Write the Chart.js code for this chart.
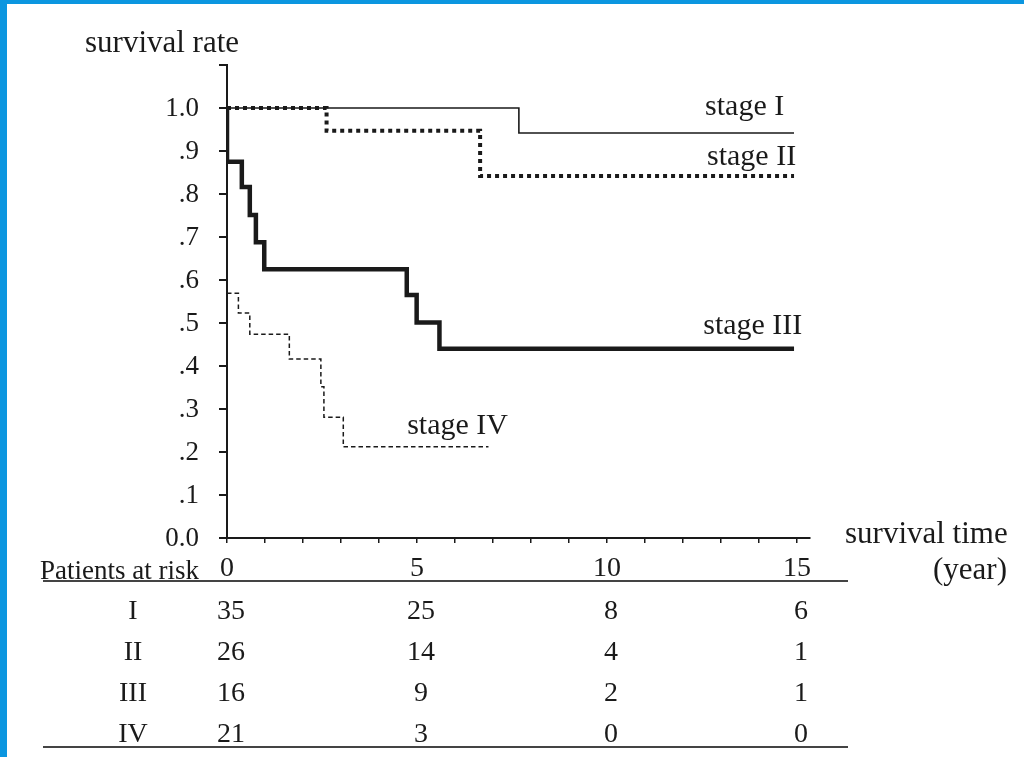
<!DOCTYPE html>
<html>
<head>
<meta charset="utf-8">
<script src="https://cdn.jsdelivr.net/npm/chart.js@4.4.1/dist/chart.umd.min.js"></script>
<style>
  html, body { margin: 0; padding: 0; background: #fff; overflow: hidden; }
  canvas { display: block; }
</style>
</head>
<body>
<canvas id="km" width="1024" height="757"></canvas>
<script>
// survival curves (years, survival rate)
const stageITime = [0, 7.68, 14.92];
const stageISurv = [1.0, 0.942, 0.942];
const stageIITime = [0, 2.62, 6.66, 14.92];
const stageIISurv = [1.0, 0.947, 0.842, 0.842];
const stageIIITime = [0, 0, 0.39, 0.6, 0.76, 0.98, 4.73, 4.99, 5.59, 14.92];
const stageIIISurv = [1.0, 0.875, 0.816, 0.751, 0.688, 0.625, 0.565, 0.501, 0.44, 0.44];
const stageIVTime = [0, 0.3, 0.6, 1.64, 2.47, 2.55, 3.06, 6.88];
const stageIVSurv = [0.569, 0.523, 0.474, 0.416, 0.352, 0.281, 0.212, 0.212];

// patients at risk table
const riskYears = [0, 5, 10, 15];
const riskStages = ['I', 'II', 'III', 'IV'];
const riskI = [35, 25, 8, 6];
const riskII = [26, 14, 4, 1];
const riskIII = [16, 9, 2, 1];
const riskIV = [21, 3, 0, 0];

// tick labels
const xTickLabels = ['0', '5', '10', '15'];
const yTickLabels = ['0.0', '.1', '.2', '.3', '.4', '.5', '.6', '.7', '.8', '.9', '1.0'];

const INK = '#1a1a1a';
const BLUE = '#0b96e0';
const SERIF = "'Liberation Serif', 'Times New Roman', serif";

function pts(t, s) {
  return t.map((x, i) => ({ x: x, y: s[i] }));
}

const scanPlugin = {
  id: 'scan',
  beforeDraw(chart) {
    const c = chart.ctx;
    c.save();
    c.fillStyle = '#fff';
    c.fillRect(0, 0, chart.width, chart.height);
    c.fillStyle = BLUE;
    c.fillRect(0, 0, 7, chart.height);
    c.fillRect(0, 0, chart.width, 4);
    c.restore();
  },
  afterDraw(chart) {
    const c = chart.ctx;
    const xs = chart.scales.x, ys = chart.scales.y;
    c.save();
    c.fillStyle = INK;
    c.textBaseline = 'alphabetic';
    c.textAlign = 'left';

    c.font = '31px ' + SERIF;
    c.fillText('survival rate', 85, 52);
    c.fillText('survival time', 845, 543);
    c.fillText('(year)', 933, 579);

    // curve labels, anchored in data units
    c.font = '30px ' + SERIF;
    c.fillText('stage I', xs.getPixelForValue(12.58), ys.getPixelForValue(0.984));
    c.fillText('stage II', xs.getPixelForValue(12.63), ys.getPixelForValue(0.868));
    c.fillText('stage III', xs.getPixelForValue(12.53), ys.getPixelForValue(0.475));
    c.fillText('stage IV', xs.getPixelForValue(4.74), ys.getPixelForValue(0.242));

    // table
    c.font = '27px ' + SERIF;
    c.fillText('Patients at risk', 40, 579);

    c.strokeStyle = '#444';
    c.lineWidth = 2;
    c.beginPath();
    c.moveTo(43, 581); c.lineTo(848, 581);
    c.moveTo(43, 747); c.lineTo(848, 747);
    c.stroke();

    const rows = [riskI, riskII, riskIII, riskIV];
    c.font = '28px ' + SERIF;
    c.textAlign = 'center';
    rows.forEach((row, r) => {
      const base = 619 + r * 41;
      c.fillText(riskStages[r], 133, base);
      row.forEach((n, k) => {
        c.fillText(String(n), xs.getPixelForValue(riskYears[k]) + 4, base);
      });
    });
    c.restore();
  }
};

new Chart(document.getElementById('km'), {
  type: 'line',
  data: {
    datasets: [
      { label: 'stage I', data: pts(stageITime, stageISurv), borderColor: INK, borderWidth: 1.6 },
      { label: 'stage II', data: pts(stageIITime, stageIISurv), borderColor: INK, borderWidth: 4, borderDash: [4, 4] },
      { label: 'stage III', data: pts(stageIIITime, stageIIISurv), borderColor: INK, borderWidth: 4.5 },
      { label: 'stage IV', data: pts(stageIVTime, stageIVSurv), borderColor: INK, borderWidth: 1.5, borderDash: [4.5, 3] }
    ]
  },
  options: {
    responsive: false,
    animation: false,
    devicePixelRatio: 1,
    datasets: { line: { stepped: true, pointRadius: 0, fill: false, borderCapStyle: 'butt' } },
    layout: { padding: { left: 0, top: 65, right: 1024 - 810, bottom: 757 - 538 - 40 } },
    plugins: { legend: { display: false }, tooltip: { enabled: false } },
    scales: {
      x: {
        type: 'linear',
        min: 0,
        max: 15.34,
        afterFit: (s) => { s.height = 40; },
        border: { display: true, color: INK, width: 2 },
        grid: { drawOnChartArea: false, drawTicks: true, tickLength: 5, color: INK, lineWidth: 1.5 },
        ticks: {
          stepSize: 1,
          includeBounds: false,
          autoSkip: false,
          maxRotation: 0,
          padding: 9,
          color: INK,
          font: { family: SERIF, size: 28 },
          callback: (v) => (v % 5 === 0 ? xTickLabels[v / 5] : '')
        }
      },
      y: {
        min: 0,
        max: 1.1,
        afterFit: (s) => { s.width = 227; },
        border: { display: true, color: INK, width: 2 },
        grid: { drawOnChartArea: false, drawTicks: true, tickLength: 8, color: INK, lineWidth: 2 },
        ticks: {
          stepSize: 0.1,
          padding: 20,
          labelOffset: 1,
          color: INK,
          font: { family: SERIF, size: 27 },
          callback: (v) => yTickLabels[Math.round(v * 10)] || ''
        }
      }
    }
  },
  plugins: [scanPlugin]
});
</script>
</body>
</html>
